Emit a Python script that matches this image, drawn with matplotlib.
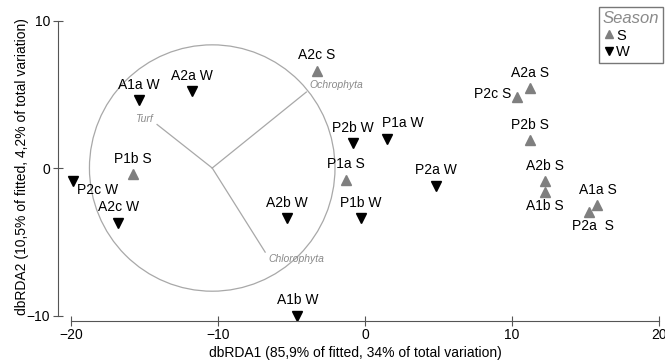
import matplotlib
matplotlib.use("Agg")
import matplotlib.pyplot as plt
from matplotlib.patches import Circle
from matplotlib.lines import Line2D

plt.rcParams['font.family'] = ['Liberation Sans', 'DejaVu Sans']

# site scores on dbRDA1 / dbRDA2
labels = ['A2c S', 'A1a W', 'A2a W', 'P1b S', 'P2c W', 'A2c W', 'A2b W', 'A1b W',
          'P1a S', 'P2b W', 'P1a W', 'P1b W', 'P2a W', 'P2c S', 'A2a S', 'P2b S',
          'A2b S', 'A1b S', 'A1a S', 'P2a  S']
season = ['S', 'W', 'W', 'S', 'W', 'W', 'W', 'W',
          'S', 'W', 'W', 'W', 'W', 'S', 'S', 'S',
          'S', 'S', 'S', 'S']
x = [-3.3, -15.4, -11.8, -15.8, -19.9, -16.8, -5.3, -4.6,
     -1.3, -0.8, 1.5, -0.3, 4.8, 10.3, 11.2, 11.2,
     12.2, 12.2, 15.8, 15.2]
y = [6.6, 4.6, 5.2, -0.4, -0.9, -3.7, -3.4, -10.0,
     -0.8, 1.7, 2.0, -3.4, -1.2, 4.8, 5.4, 1.9,
     -0.9, -1.6, -2.5, -3.0]

# vector overlay (origin and end points)
vec_origin = (-10.4, 0.0)
vec_names = ['Turf', 'Ochrophyta', 'Chlorophyta']
vec_x = [-14.15, -4.0, -6.8]
vec_y = [2.95, 5.15, -5.7]
circle_r = 8.35

fig = plt.figure(figsize=(6.65, 3.61), dpi=100)
ax = fig.add_axes([0.0737, 0.1014, 0.922, 0.8745])
ax.set_xlim(-21.5, 20.2)
ax.set_ylim(-10.6, 10.8)

grey = '#8a8a8a'
ax.add_patch(Circle(vec_origin, circle_r, fill=False, ec='#a8a8a8', lw=0.9))
for vx, vy in zip(vec_x, vec_y):
    ax.plot([vec_origin[0], vx], [vec_origin[1], vy], color='#a8a8a8', lw=0.9)
ax.annotate(vec_names[0], (vec_x[0], vec_y[0]), xytext=(-3, 4), textcoords='offset points',
            ha='right', va='center', fontsize=7.5, style='italic', color=grey)
ax.annotate(vec_names[1], (vec_x[1], vec_y[1]), xytext=(2, 5), textcoords='offset points',
            ha='left', va='center', fontsize=7.5, style='italic', color=grey)
ax.annotate(vec_names[2], (vec_x[2], vec_y[2]), xytext=(2, -5), textcoords='offset points',
            ha='left', va='center', fontsize=7.5, style='italic', color=grey)

for xi, yi, s in zip(x, y, season):
    if s == 'S':
        ax.plot(xi, yi, marker='^', ms=7, color='#7f7f7f', ls='none')
    else:
        ax.plot(xi, yi, marker='v', ms=7, color='black', ls='none')

# label offsets (points) and alignment for the crowded ones
special = {
    'P2c W': ((3, -6), 'left', 'center'),
    'P2c S': ((-4, 2), 'right', 'center'),
    'A1b S': ((0, -5), 'center', 'top'),
    'P2a  S': ((3, -5), 'center', 'top'),
    'P1a W': ((11, 6), 'center', 'bottom'),
}
for lab, xi, yi in zip(labels, x, y):
    off, ha, va = special.get(lab, ((0, 6), 'center', 'bottom'))
    ax.annotate(lab, (xi, yi), xytext=off, textcoords='offset points',
                ha=ha, va=va, fontsize=10)

for side in ['top', 'right']:
    ax.spines[side].set_visible(False)
ax.spines['left'].set_position(('data', -20.9))
ax.spines['left'].set_bounds(-10, 10)
ax.spines['bottom'].set_position(('data', -10.34))
ax.spines['bottom'].set_bounds(-20, 20)
for side in ['left', 'bottom']:
    ax.spines[side].set_color('#555555')
ax.set_xticks([-20, -10, 0, 10, 20])
ax.set_yticks([-10, 0, 10])
ax.tick_params(direction='inout', length=7, color='#555555', labelsize=10, pad=2)
ax.set_xlabel('dbRDA1 (85,9% of fitted, 34% of total variation)', fontsize=10, labelpad=3)
ax.set_ylabel('dbRDA2 (10,5% of fitted, 4,2% of total variation)', fontsize=10, labelpad=-2)

handles = [Line2D([], [], marker='^', ms=6, color='#7f7f7f', ls='none'),
           Line2D([], [], marker='v', ms=6, color='black', ls='none')]
leg = fig.legend(handles, ['S', 'W'], title='Season', loc='upper right',
                 bbox_to_anchor=(663 / 665, 1 - 7 / 361), fontsize=10.5, title_fontsize=12,
                 frameon=True, fancybox=False, edgecolor='#555555',
                 handletextpad=0.1, handlelength=0.8, borderpad=0.25,
                 labelspacing=0.2, borderaxespad=0.0)
leg.get_frame().set_linewidth(1.0)
leg.get_title().set_style('italic')
leg.get_title().set_color(grey)
leg._legend_box.align = 'left'

fig.savefig('out.png', dpi=100)
